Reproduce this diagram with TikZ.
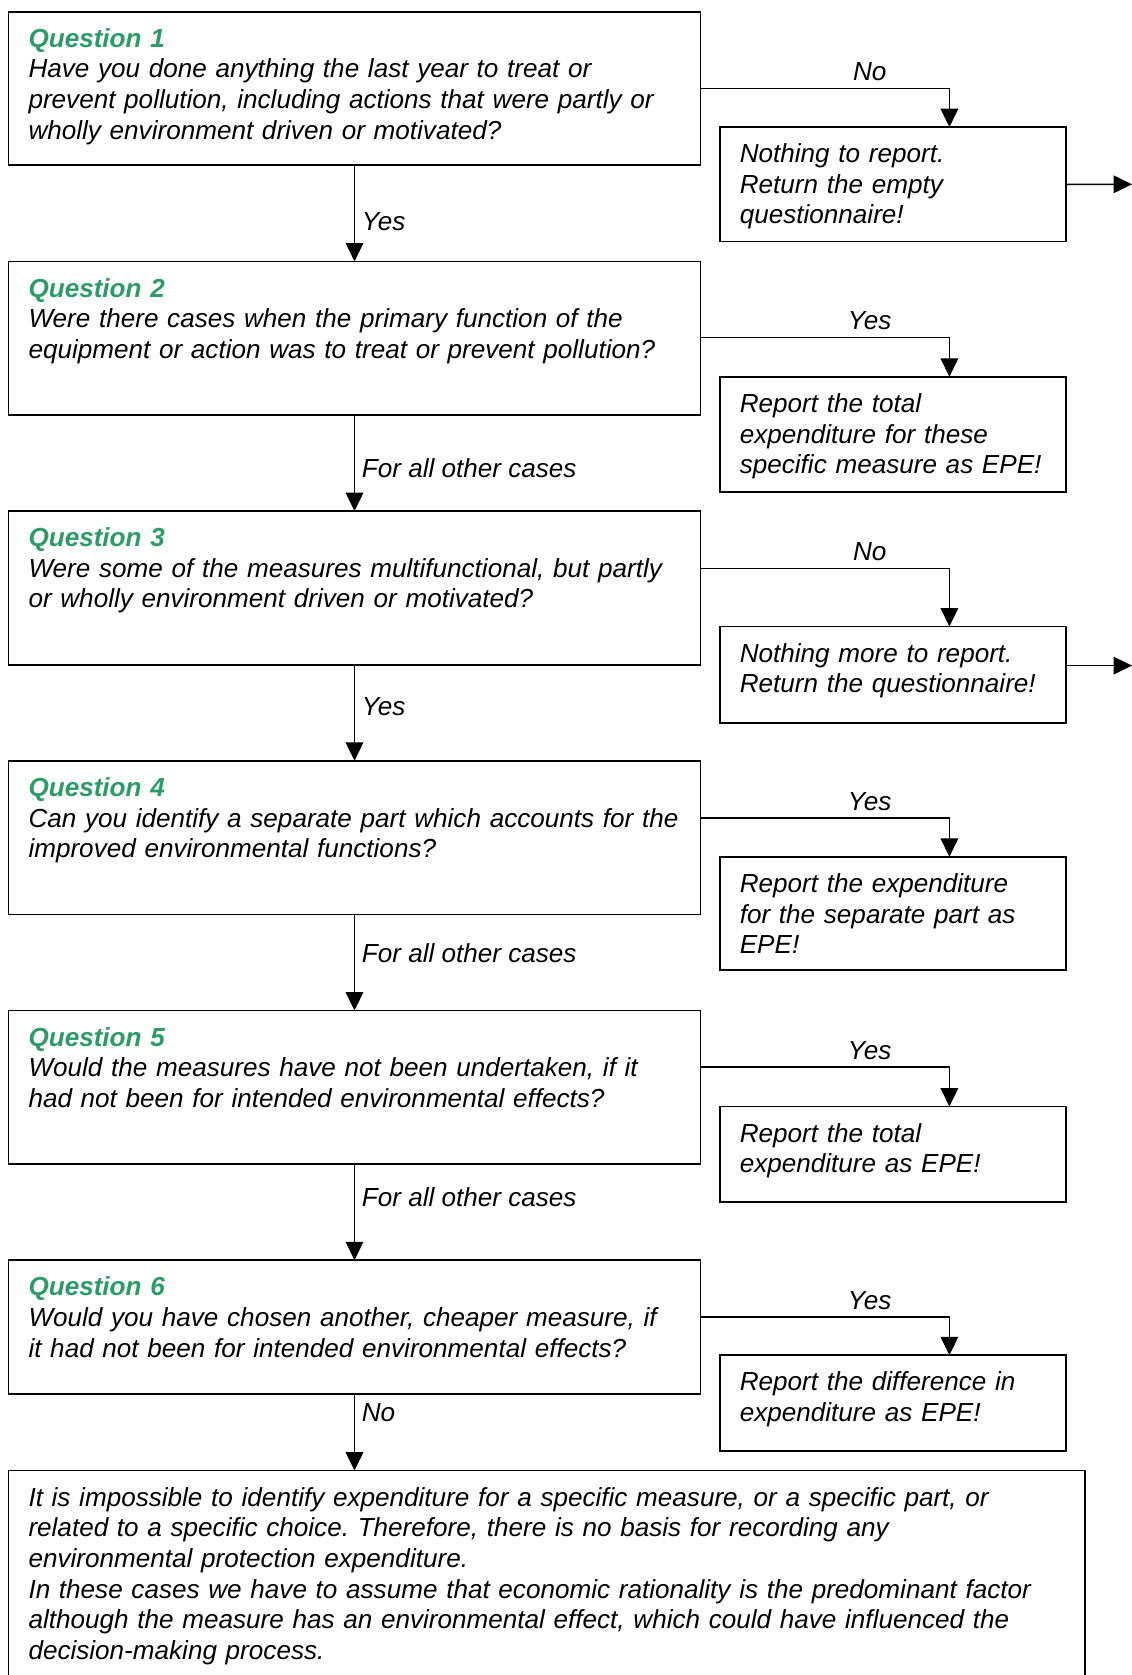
\documentclass[tikz,border=0pt]{standalone}
\usepackage{fontspec}
\setmainfont{Liberation Sans}
\usetikzlibrary{arrows.meta}
\definecolor{qgreen}{RGB}{46,155,102}
\newcommand{\qtitle}[1]{\textcolor{qgreen}{\bfseries #1}}
\frenchspacing

\begin{document}
\begin{tikzpicture}[x=1pt, y=-1pt, font=\fontsize{13.05}{15.3}\selectfont\itshape,
  >={Triangle[width=8.8pt,length=9.2pt]},
  box/.style={draw, line width=0.85pt, anchor=north west, outer sep=0pt,
    inner xsep=10pt, inner ysep=8.3pt, text height=9.5pt, align=left},
  qbox/.style={box, text width=326pt},
  abox/.style={box, text width=153pt},
  flow/.style={->, line width=0.7pt}]
  \useasboundingbox (0,0) rectangle (565.5,837.5);

  % questions
  \node[qbox, text depth=50.7pt] (q1) at (4.25,5.85) {\qtitle{Question 1}\\
    Have you done anything the last year to treat or\\
    prevent pollution, including actions that were partly or\\
    wholly environment driven or motivated?};
  \node[qbox, text depth=50.7pt] (q2) at (4.25,130.7) {\qtitle{Question 2}\\
    Were there cases when the primary function of the\\
    equipment or action was to treat or prevent pollution?};
  \node[qbox, text depth=50.7pt] (q3) at (4.25,255.55) {\qtitle{Question 3}\\
    Were some of the measures multifunctional, but partly\\
    or wholly environment driven or motivated?};
  \node[qbox, text depth=50.7pt] (q4) at (4.25,380.4) {\qtitle{Question 4}\\
    Can you identify a separate part which accounts for the\\
    improved environmental functions?};
  \node[qbox, text depth=50.7pt] (q5) at (4.25,505.25) {\qtitle{Question 5}\\
    Would the measures have not been undertaken, if it\\
    had not been for intended environmental effects?};
  \node[qbox, text depth=40.7pt] (q6) at (4.25,630.1) {\qtitle{Question 6}\\
    Would you have chosen another, cheaper measure, if\\
    it had not been for intended environmental effects?};

  % answers
  \node[abox, text depth=31.1pt] (a1) at (359.9,63.55) {Nothing to report.\\
    Return the empty\\ questionnaire!};
  \node[abox, text depth=31.5pt] (a2) at (359.9,188.4) {Report the total\\
    expenditure for these\\ specific measure as EPE!};
  \node[abox, text depth=22pt] (a3) at (359.9,313.25) {Nothing more to report.\\
    Return the questionnaire!};
  \node[abox, text depth=30.5pt] (a4) at (359.9,428.4) {Report the expenditure\\
    for the separate part as\\ EPE!};
  \node[abox, text depth=21.5pt] (a5) at (359.9,553.25) {Report the total\\
    expenditure as EPE!};
  \node[abox, text depth=21.9pt] (a6) at (359.9,677.6) {Report the difference in\\
    expenditure as EPE!};

  % conclusion
  \node[box, text width=518.25pt, text depth=83.9pt] (res) at (4.25,735.3) {%
    It is impossible to identify expenditure for a specific measure, or a specific part, or\\
    related to a specific choice. Therefore, there is no basis for recording any\\
    environmental protection expenditure.\\
    In these cases we have to assume that economic rationality is the predominant factor\\
    although the measure has an environmental effect, which could have influenced the\\
    decision-making process.};

  \coordinate (exit1) at (566,92.15);
  \coordinate (exit3) at (566,332.8);

  % side branches
  \draw[flow] ([yshift=-38.45pt]q1.north east) -| node[above, pos=0.34] (l1) {No} ([xshift=114.8pt]a1.north west);
  \draw[flow] ([yshift=-38.05pt]q2.north east) -| node[above, pos=0.34] (l2) {Yes} ([xshift=114.8pt]a2.north west);
  \draw[flow] ([yshift=-28.55pt]q3.north east) -| node[above, pos=0.34] (l3) {No} ([xshift=114.8pt]a3.north west);
  \draw[flow] ([yshift=-28.65pt]q4.north east) -| node[above, pos=0.34] (l4) {Yes} ([xshift=114.8pt]a4.north west);
  \draw[flow] ([yshift=-28.25pt]q5.north east) -| node[above, pos=0.34] (l5) {Yes} ([xshift=114.8pt]a5.north west);
  \draw[flow] ([yshift=-28.3pt]q6.north east) -| node[above, pos=0.34] (l6) {Yes} ([xshift=114.8pt]a6.north west);
  \draw[flow] (a1.east) -- (exit1);
  \draw[flow] ([yshift=-19.55pt]a3.north east) -- (exit3);

  % main line
  \draw[flow] (q1) -- node[right, pos=0.59] (d1) {Yes} (q2);
  \draw[flow] (q2) -- node[right, pos=0.55] (d2) {For all other cases} (q3);
  \draw[flow] (q3) -- node[right, pos=0.44] (d3) {Yes} (q4);
  \draw[flow] (q4) -- node[right, pos=0.40] (d4) {For all other cases} (q5);
  \draw[flow] (q5) -- node[right, pos=0.34] (d5) {For all other cases} (q6);
  \draw[flow] (q6) -- node[right, pos=0.24] (d6) {No} (q6 |- res.north);
\end{tikzpicture}
\end{document}
